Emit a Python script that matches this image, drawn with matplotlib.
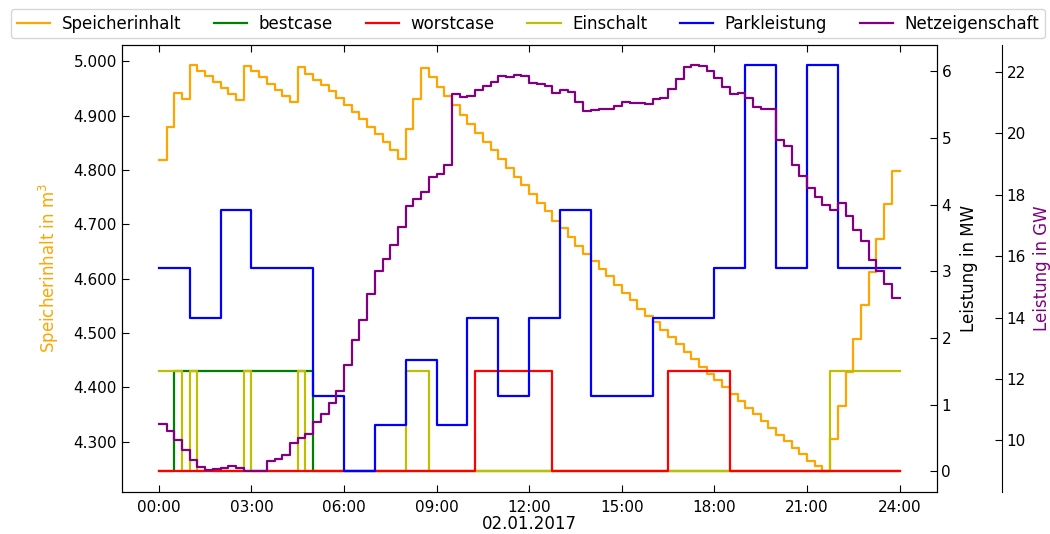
import numpy as np
import matplotlib.pyplot as plt
from matplotlib.ticker import FuncFormatter, MultipleLocator

# Viertelstundenraster 00:00 ... 24:00
t = np.arange(97) * 0.25
stunden = np.arange(25)

# Speicherinhalt in m³ (Viertelstundenwerte)
speicher = [4818, 4879, 4942, 4930, 4993, 4983, 4973, 4962, 4951, 4940, 4929, 4991,
            4982, 4971, 4959, 4948, 4937, 4926, 4990, 4977, 4966, 4956, 4945, 4932,
            4919, 4906, 4893, 4879, 4866, 4851, 4836, 4821, 4875, 4931, 4988, 4971,
            4953, 4936, 4919, 4901, 4884, 4868, 4851, 4836, 4820, 4804, 4788, 4772,
            4755, 4739, 4724, 4707, 4693, 4676, 4661, 4646, 4632, 4618, 4604, 4589,
            4574, 4560, 4545, 4532, 4520, 4506, 4492, 4479, 4465, 4452, 4438, 4425,
            4414, 4400, 4388, 4374, 4362, 4350, 4338, 4325, 4313, 4301, 4289, 4278,
            4265, 4255, 4245, 4305, 4366, 4428, 4489, 4551, 4612, 4673, 4737, 4799]

# Netzeigenschaft in GW (Viertelstundenwerte)
netz = [10.54, 10.30, 10.00, 9.70, 9.37, 9.13, 9.05, 9.08, 9.10, 9.18, 9.10, 9.02,
        8.99, 8.99, 9.33, 9.41, 9.54, 9.91, 10.07, 10.20, 10.60, 10.87, 11.21, 11.61,
        12.44, 13.26, 13.91, 14.76, 15.51, 15.90, 16.35, 16.95, 17.63, 17.84, 18.09, 18.58,
        18.66, 18.96, 21.27, 21.18, 21.21, 21.40, 21.54, 21.67, 21.87, 21.83, 21.89, 21.87,
        21.64, 21.59, 21.54, 21.29, 21.40, 21.33, 21.02, 20.73, 20.75, 20.77, 20.80, 20.88,
        21.00, 20.99, 20.97, 20.94, 21.10, 21.13, 21.42, 21.75, 22.14, 22.21, 22.18, 22.03,
        21.78, 21.49, 21.26, 21.31, 21.13, 20.86, 20.80, 20.77, 19.79, 19.58, 18.96, 18.60,
        18.20, 17.91, 17.65, 17.49, 17.73, 17.30, 16.86, 16.49, 15.86, 15.51, 15.08, 14.64]

# Parkleistung in MW (Stundenwerte)
park = [3.05, 2.30, 3.92, 3.05, 3.05, 1.13, 0.0, 0.69, 1.67, 0.69, 2.30, 1.13,
        2.30, 3.92, 1.13, 1.13, 2.30, 2.30, 3.05, 6.09, 3.05, 6.09, 3.05, 3.05]

# Schaltzeiten der Pumpe (von, bis) in Stunden
bestcase_an = [(0.5, 5.0)]
worstcase_an = [(10.25, 12.75), (16.5, 18.5)]
einschalt_an = [(0.0, 0.75), (1.0, 1.25), (2.75, 3.0), (4.5, 4.75), (8.0, 8.75), (21.75, 24.0)]
pumpe_mw = 1.5


def schaltreihe(intervalle):
    an = np.zeros(96, dtype=bool)
    for a, b in intervalle:
        an |= (t[:-1] >= a) & (t[:-1] < b)
    werte = np.where(an, pumpe_mw, 0.0)
    return np.append(werte, werte[-1])


def stufen(werte):
    return np.append(werte, werte[-1])


plt.rcParams['font.family'] = 'DejaVu Sans'
plt.rcParams['font.size'] = 12
plt.rcParams['xtick.labelsize'] = 11
plt.rcParams['ytick.labelsize'] = 11

fig, ax1 = plt.subplots(figsize=(10.5, 5.34), dpi=100)
fig.subplots_adjust(left=0.116, right=0.892, bottom=0.079, top=0.916)
ax2 = ax1.twinx()
ax3 = ax1.twinx()
ax3.spines['right'].set_position(('axes', 1.08))
ax3.spines['top'].set_visible(False)
ax3.spines['left'].set_visible(False)
ax3.spines['bottom'].set_visible(False)

lw = 1.6
l1, = ax1.plot(t, stufen(speicher), color='orange', lw=lw, drawstyle='steps-post')
l2, = ax2.plot(t, schaltreihe(bestcase_an), color='g', lw=lw, drawstyle='steps-post')
l4, = ax2.plot(t, schaltreihe(einschalt_an), color='#bfbf00', lw=lw, drawstyle='steps-post')
l3, = ax2.plot(t, schaltreihe(worstcase_an), color='r', lw=lw, drawstyle='steps-post')
l5, = ax2.plot(stunden, stufen(park), color='b', lw=lw, drawstyle='steps-post')
l6, = ax3.plot(t, stufen(netz), color='purple', lw=lw, drawstyle='steps-post')

ax1.set_ylabel('Speicherinhalt in m$^3$', color='orange', labelpad=9)
ax2.set_ylabel('Leistung in MW', labelpad=6)
ax3.set_ylabel('Leistung in GW', color='purple', labelpad=5)
ax1.set_xlabel('02.01.2017', labelpad=0)

ax1.yaxis.set_major_locator(MultipleLocator(100))
ax1.yaxis.set_major_formatter(FuncFormatter(lambda v, p: f"{v:,.0f}".replace(",", ".")))
ax2.yaxis.set_major_locator(MultipleLocator(1))
ax3.yaxis.set_major_locator(MultipleLocator(2))

ax1.set_xticks(np.arange(0, 25, 3))
ax1.set_xticklabels([f"{h:02d}:00" for h in range(0, 25, 3)])

ax1.tick_params(axis='both', direction='in', length=5, top=True)
ax1.tick_params(axis='x', pad=6)
ax2.tick_params(axis='y', direction='in', length=5)
ax3.tick_params(axis='y', direction='in', length=5)

fig.legend([l1, l2, l3, l4, l5, l6],
           ['Speicherinhalt', 'bestcase', 'worstcase', 'Einschalt', 'Parkleistung', 'Netzeigenschaft'],
           loc='upper center', bbox_to_anchor=(0.503, 0.99), ncol=6, fontsize=12,
           columnspacing=1.95, handlelength=2.0, handletextpad=0.7, borderaxespad=0.2,
           borderpad=0.35)

fig.savefig('out.png', dpi=100)
